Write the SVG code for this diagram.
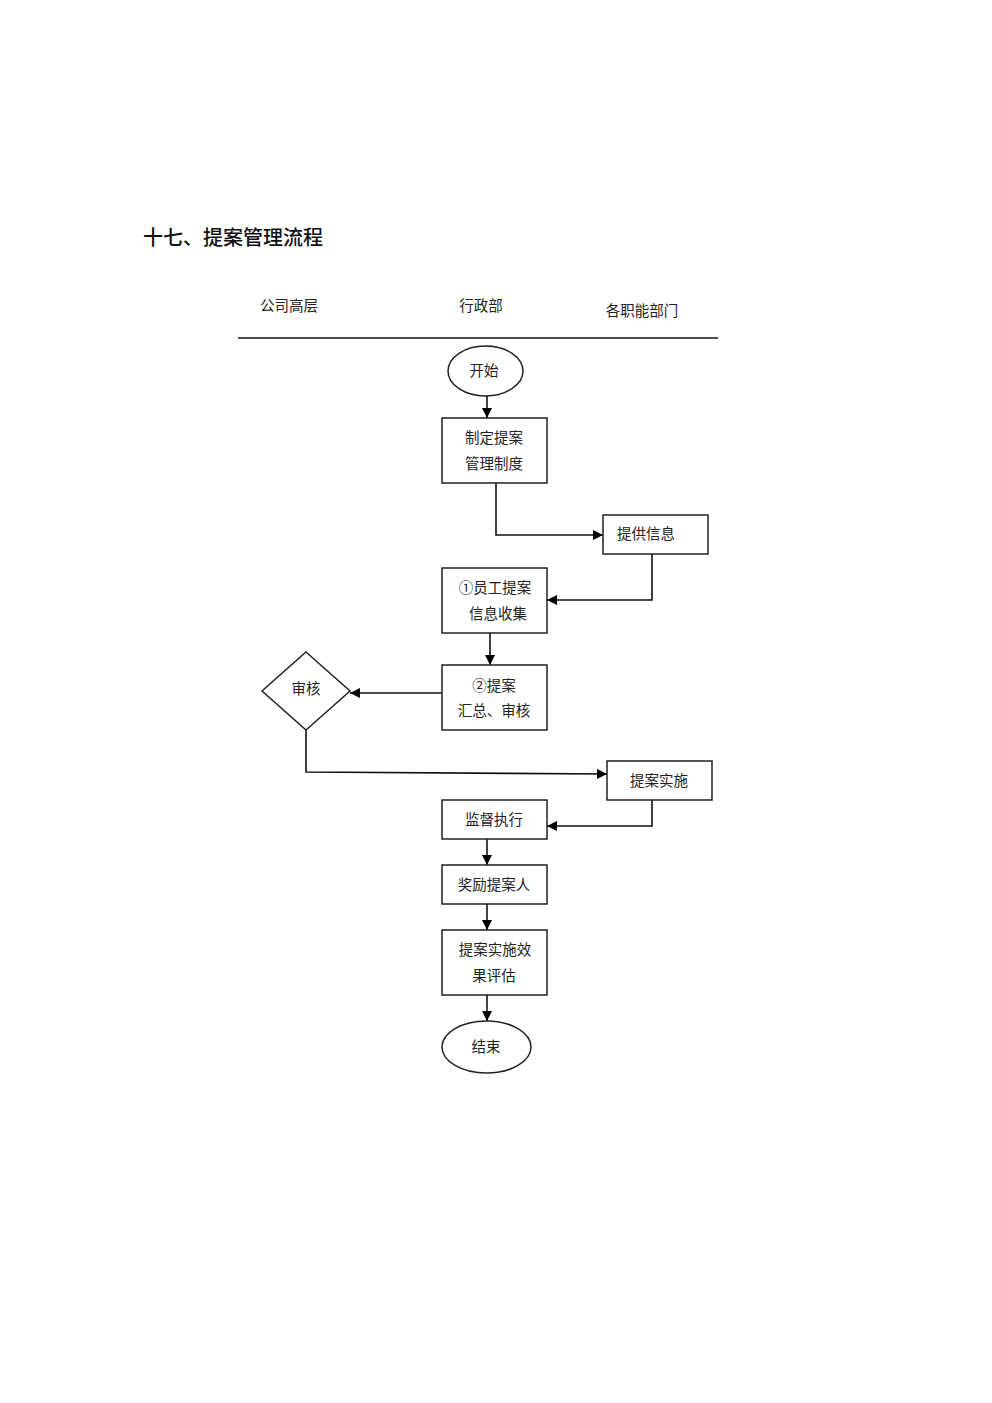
<svg xmlns="http://www.w3.org/2000/svg" width="992" height="1403" viewBox="0 0 992 1403">
<style>
.t{font-family:"Liberation Serif","Noto Sans CJK SC",serif;font-size:14.5px;fill:#222;text-anchor:middle;dominant-baseline:central}
.n{fill:#fff;stroke:#222;stroke-width:1.5}
.c{fill:none;stroke:#111;stroke-width:1.6}
</style>
<defs>
<marker id="a" viewBox="0 0 10 10" refX="10" refY="5" markerWidth="11" markerHeight="10" markerUnits="userSpaceOnUse" orient="auto">
<path d="M0,0 L10,5 L0,10 z" fill="#000"/>
</marker>
</defs>
<rect width="992" height="1403" fill="#fff"/>
<text x="143" y="236" style="font-family:'Noto Sans CJK SC',sans-serif;font-size:20px;font-weight:500;fill:#111;dominant-baseline:central">十七、提案管理流程</text>
<g id="lanes">
<text class="t" x="289" y="306">公司高层</text>
<text class="t" x="481" y="306">行政部</text>
<text class="t" x="642" y="311">各职能部门</text>
<line x1="238" y1="338" x2="718" y2="338" stroke="#111" stroke-width="1.5"/>
</g>
<g id="connectors">
<path class="c" d="M487,396 V418" marker-end="url(#a)"/>
<path class="c" d="M496,483 V535 H603" marker-end="url(#a)"/>
<path class="c" d="M652,554 V600 H547" marker-end="url(#a)"/>
<path class="c" d="M490,633 V665" marker-end="url(#a)"/>
<path class="c" d="M442,693 H350" marker-end="url(#a)"/>
<path class="c" d="M306,730 V772 L607,774" marker-end="url(#a)"/>
<path class="c" d="M652,800 V826 H547" marker-end="url(#a)"/>
<path class="c" d="M487,839 V865" marker-end="url(#a)"/>
<path class="c" d="M487,904 V930" marker-end="url(#a)"/>
<path class="c" d="M487,995 V1021" marker-end="url(#a)"/>
</g>
<g id="start"><ellipse class="n" cx="485.5" cy="371" rx="37.5" ry="25"/><text class="t" x="484" y="371">开始</text></g>
<g id="zhiding"><rect class="n" x="442" y="418" width="105" height="65"/><text class="t" x="494" y="438">制定提案</text><text class="t" x="494" y="464">管理制度</text></g>
<g id="tigong"><rect class="n" x="603" y="515" width="105" height="39"/><text class="t" x="646" y="534">提供信息</text></g>
<g id="shouji"><rect class="n" x="442" y="568" width="105" height="65"/><text class="t" x="495" y="588">①员工提案</text><text class="t" x="498" y="614">信息收集</text></g>
<g id="huizong"><rect class="n" x="442" y="665" width="105" height="65"/><text class="t" x="494" y="686">②提案</text><text class="t" x="494" y="711">汇总、审核</text></g>
<g id="shenhe"><polygon class="n" points="306,652 350,691 306,730 262,691"/><text class="t" x="306" y="689">审核</text></g>
<g id="shishi"><rect class="n" x="607" y="761" width="105" height="39"/><text class="t" x="659" y="781">提案实施</text></g>
<g id="jiandu"><rect class="n" x="442" y="800" width="105" height="39"/><text class="t" x="494" y="820">监督执行</text></g>
<g id="jiangli"><rect class="n" x="442" y="865" width="105" height="39"/><text class="t" x="494" y="885">奖励提案人</text></g>
<g id="pinggu"><rect class="n" x="442" y="930" width="105" height="65"/><text class="t" x="495" y="950">提案实施效</text><text class="t" x="494" y="976">果评估</text></g>
<g id="end"><ellipse class="n" cx="486.5" cy="1047" rx="44.5" ry="26"/><text class="t" x="486" y="1047">结束</text></g>
</svg>
